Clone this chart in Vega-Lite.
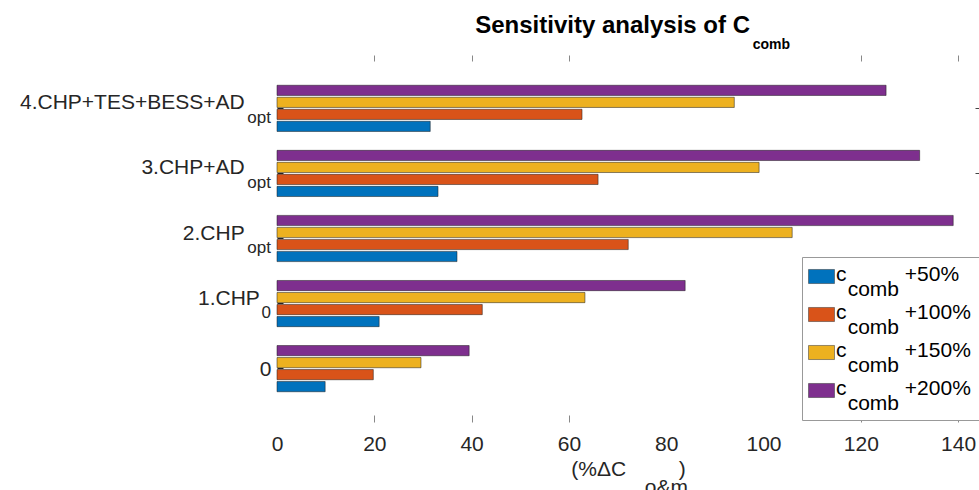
{
  "$schema": "https://vega.github.io/schema/vega-lite/v6.json",
  "width": 702,
  "height": 367,
  "autosize": {"type": "none"},
  "padding": {"left": 277, "top": 55, "right": 0, "bottom": 68},
  "background": "white",
  "config": {"view": {"stroke": null}, "font": "Liberation Sans"},
  "title": {
    "text": "Sensitivity analysis of C\u00a0\u00a0\u00a0\u00a0\u00a0\u00a0\u200b",
    "subtitle": "comb",
    "frame": "group",
    "anchor": "start",
    "align": "right",
    "dx": 513,
    "offset": 3,
    "font": "Liberation Sans",
    "fontSize": 24,
    "fontWeight": "bold",
    "color": "#000000",
    "subtitleFont": "Liberation Sans",
    "subtitleFontSize": 14,
    "subtitleFontWeight": "bold",
    "subtitleColor": "#000000",
    "subtitlePadding": 0
  },
  "datasets": {
    "bars": [
      {"group": "4.CHP+TES+BESS+AD", "series": "+50%", "value": 31.5},
      {"group": "4.CHP+TES+BESS+AD", "series": "+100%", "value": 62.7},
      {"group": "4.CHP+TES+BESS+AD", "series": "+150%", "value": 94.0},
      {"group": "4.CHP+TES+BESS+AD", "series": "+200%", "value": 125.2},
      {"group": "3.CHP+AD", "series": "+50%", "value": 33.1},
      {"group": "3.CHP+AD", "series": "+100%", "value": 66.0},
      {"group": "3.CHP+AD", "series": "+150%", "value": 99.1},
      {"group": "3.CHP+AD", "series": "+200%", "value": 132.1},
      {"group": "2.CHP", "series": "+50%", "value": 37.0},
      {"group": "2.CHP", "series": "+100%", "value": 72.2},
      {"group": "2.CHP", "series": "+150%", "value": 105.9},
      {"group": "2.CHP", "series": "+200%", "value": 139.0},
      {"group": "1.CHP", "series": "+50%", "value": 21.0},
      {"group": "1.CHP", "series": "+100%", "value": 42.2},
      {"group": "1.CHP", "series": "+150%", "value": 63.3},
      {"group": "1.CHP", "series": "+200%", "value": 83.9},
      {"group": "0", "series": "+50%", "value": 9.9},
      {"group": "0", "series": "+100%", "value": 19.8},
      {"group": "0", "series": "+150%", "value": 29.6},
      {"group": "0", "series": "+200%", "value": 39.5}
    ],
    "subs": [
      {"group": "4.CHP+TES+BESS+AD", "sub": "opt"},
      {"group": "3.CHP+AD", "sub": "opt"},
      {"group": "2.CHP", "sub": "opt"},
      {"group": "1.CHP", "sub": "0"},
      {"group": "0", "sub": ""}
    ]
  },
  "layer": [
    {
      "data": {"name": "bars"},
      "mark": {"type": "bar", "stroke": "#1a1a1a", "strokeWidth": 0.5},
      "encoding": {
        "y": {
          "field": "group",
          "type": "nominal",
          "sort": ["4.CHP+TES+BESS+AD", "3.CHP+AD", "2.CHP", "1.CHP", "0"],
          "scale": {"paddingInner": 0.29, "paddingOuter": 0.465},
          "axis": {
            "title": null,
            "domain": false,
            "ticks": true,
            "tickSize": -6,
            "tickColor": "#262626",
            "labelFont": "Liberation Sans",
            "labelFontSize": 21,
            "labelColor": "#262626",
            "labelPadding": 12,
            "labelLimit": 400,
            "labelExpr": "datum.value == '0' ? '0' : datum.value == '1.CHP' ? datum.value + '\u00a0\u00a0\u200b' : datum.value + '\u2002\u2002\u00a0\u200b'",
            "labelOffset": {"condition": {"test": "datum.value == '0'", "value": 1}, "value": -5}
          }
        },
        "yOffset": {
          "field": "series",
          "sort": ["+200%", "+150%", "+100%", "+50%"],
          "scale": {"paddingInner": 0.15}
        },
        "x": {
          "field": "value",
          "type": "quantitative",
          "scale": {"domain": [0, 144.3], "nice": false},
          "axis": {
            "orient": "bottom",
            "values": [0, 20, 40, 60, 80, 100, 120, 140],
            "format": "d",
            "domain": false,
            "grid": false,
            "labelFlush": false,
            "tickSize": -7,
            "tickColor": {"condition": {"test": "datum.value == 0 || datum.value == 80 || datum.value == 100", "value": "rgba(0,0,0,0)"}, "value": "#888888"},
            "labelFont": "Liberation Sans",
            "labelFontSize": 21,
            "labelColor": "#262626",
            "labelPadding": 18,
            "title": ["(%ΔC\u00a0\u00a0\u00a0\u00a0\u00a0\u00a0\u00a0\u00a0\u00a0)", "\u200b\u00a0\u00a0\u00a0\u00a0\u00a0\u00a0\u00a0\u00a0\u00a0\u00a0\u00a0\u00a0\u00a0o&m"],
            "titleFont": "Liberation Sans",
            "titleFontSize": 21,
            "titleFontWeight": "normal",
            "titleColor": "#262626",
            "titleLineHeight": 18,
            "titlePadding": 4
          }
        },
        "color": {
          "field": "series",
          "type": "nominal",
          "scale": {
            "domain": ["+50%", "+100%", "+150%", "+200%"],
            "range": ["#0072BD", "#D95319", "#EDB120", "#7E2F8E"]
          },
          "legend": {
            "orient": "none",
            "legendX": 525,
            "legendY": 202,
            "title": null,
            "direction": "vertical",
            "fillColor": "white",
            "strokeColor": "#999999",
            "padding": 6,
            "symbolType": "M-1,-0.54H1V0.54H-1Z",
            "symbolSize": 676,
            "symbolStrokeColor": "#333333",
            "symbolStrokeWidth": 0.5,
            "symbolOpacity": 1,
            "labelFont": "Liberation Sans",
            "labelFontSize": 21,
            "labelColor": "#000000",
            "labelLimit": 400,
            "labelOffset": 1,
            "rowPadding": 1,
            "labelExpr": "['c\u00a0\u00a0\u00a0\u00a0\u00a0\u00a0\u00a0\u00a0\u00a0\u00a0' + datum.label + '\u00a0\u00a0\u00a0\u00a0\u200b', '\u200b\u00a0\u00a0comb']",
            "encode": {"labels": {"update": {"lineHeight": {"value": 15}, "dy": {"value": -2}}}}
          }
        }
      }
    },
    {
      "data": {"name": "subs"},
      "mark": {"type": "text", "align": "right", "baseline": "alphabetic", "dx": -6, "dy": 14.5, "fontSize": 17, "font": "Liberation Sans", "color": "#262626"},
      "encoding": {
        "y": {
          "field": "group",
          "type": "nominal",
          "sort": ["4.CHP+TES+BESS+AD", "3.CHP+AD", "2.CHP", "1.CHP", "0"],
          "axis": {
            "orient": "right",
            "labels": false,
            "domain": false,
            "title": null,
            "ticks": true,
            "tickSize": -4,
            "tickColor": {"condition": {"test": "datum.value == '4.CHP+TES+BESS+AD' || datum.value == '3.CHP+AD'", "value": "#444444"}, "value": "rgba(0,0,0,0)"}
          }
        },
        "x": {
          "datum": 0,
          "type": "quantitative",
          "axis": {"orient": "top", "labels": false, "domain": false, "grid": false, "title": null, "values": [20, 40, 60, 120, 140], "tickSize": -6, "tickColor": "#888888"}
        },
        "text": {"field": "sub"}
      }
    }
  ],
  "resolve": {"axis": {"x": "independent", "y": "independent"}}
}
